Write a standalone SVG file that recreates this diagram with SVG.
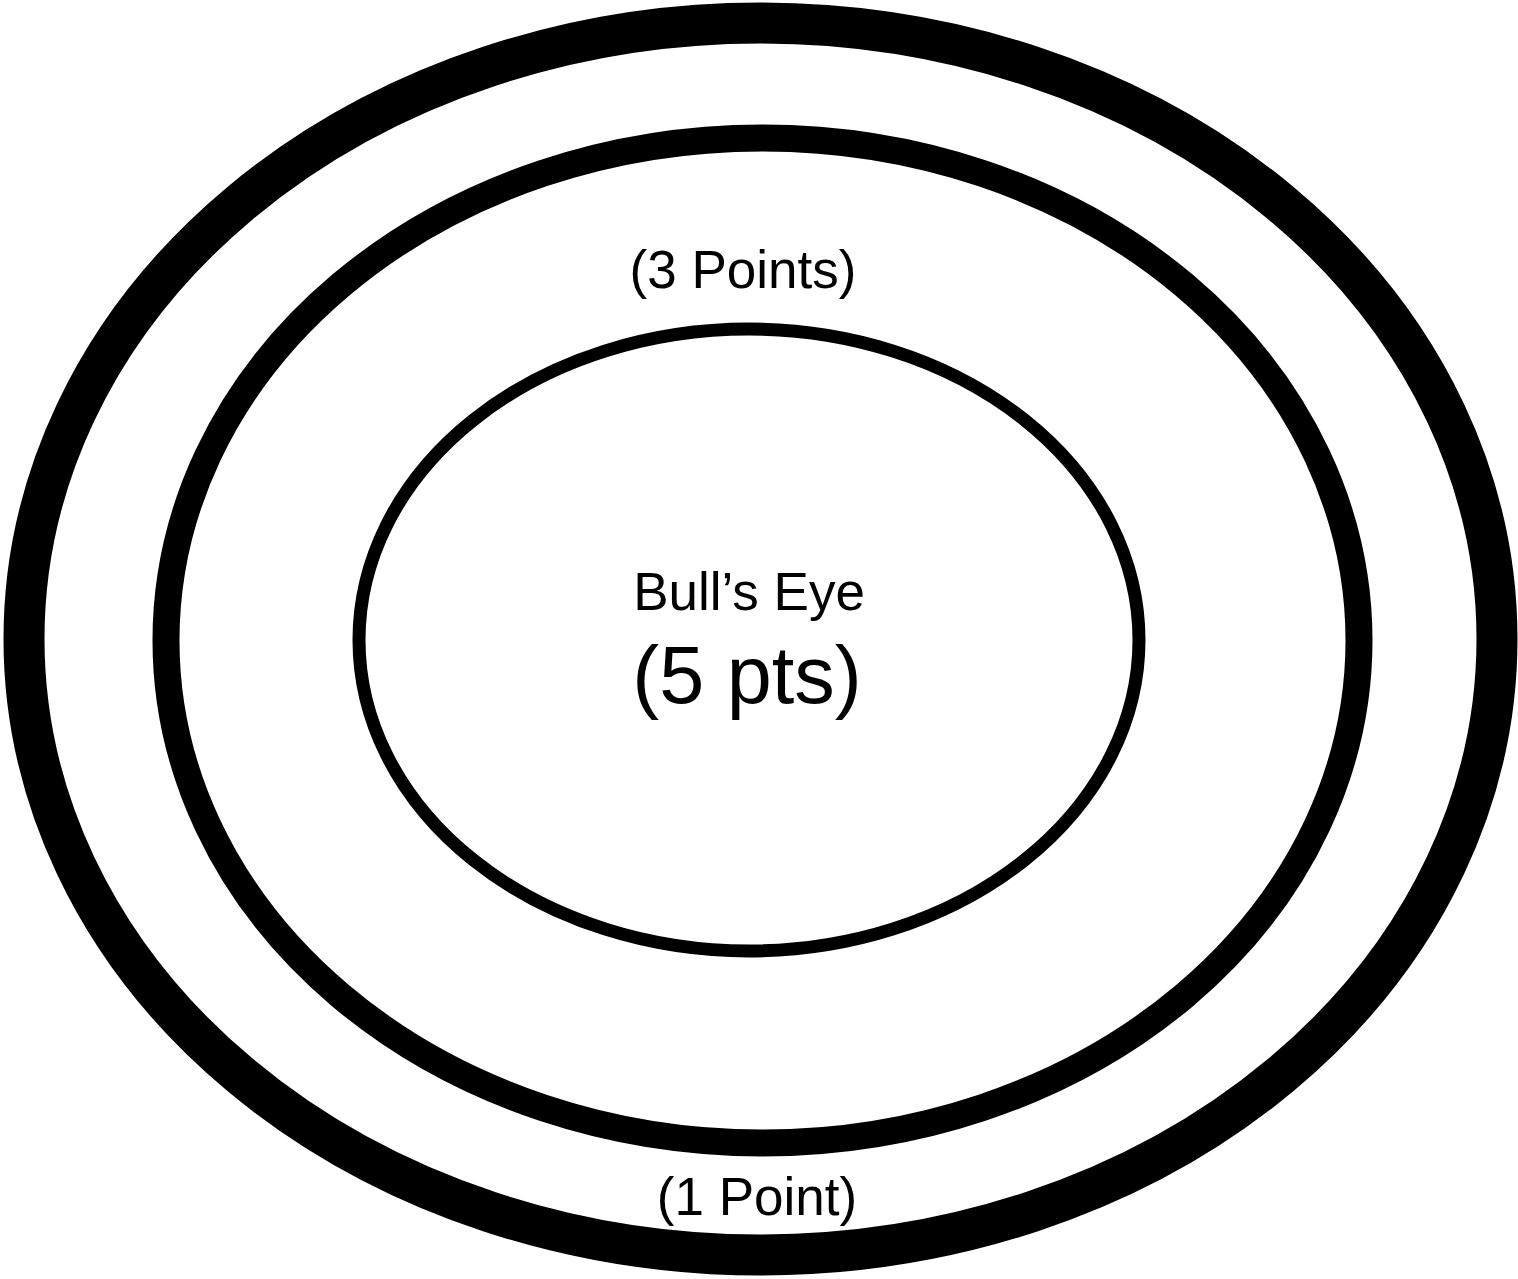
<svg xmlns="http://www.w3.org/2000/svg" width="1518" height="1279" viewBox="0 0 1518 1279">
<style>
.ring{fill:none;stroke:#000}
.t{font-family:"Liberation Sans",Arial,sans-serif;fill:#000;text-anchor:middle}
</style>
<rect width="1518" height="1279" fill="#fff"/>
<g id="outer-ring"><ellipse class="ring" cx="760.5" cy="639" rx="736.5" ry="616" stroke-width="41"/></g>
<g id="middle-ring"><ellipse class="ring" cx="762.5" cy="640.5" rx="596.5" ry="502.5" stroke-width="27"/></g>
<g id="bulls-eye"><ellipse class="ring" cx="749" cy="640" rx="390" ry="311" stroke-width="13"/></g>
<g id="labels">
<text class="t" x="743" y="288" font-size="53">(3 Points)</text>
<text class="t" x="749" y="610" font-size="53">Bull’s Eye</text>
<text class="t" x="747" y="703" font-size="81">(5 pts)</text>
<text class="t" x="757" y="1215" font-size="53">(1 Point)</text>
</g>
</svg>
